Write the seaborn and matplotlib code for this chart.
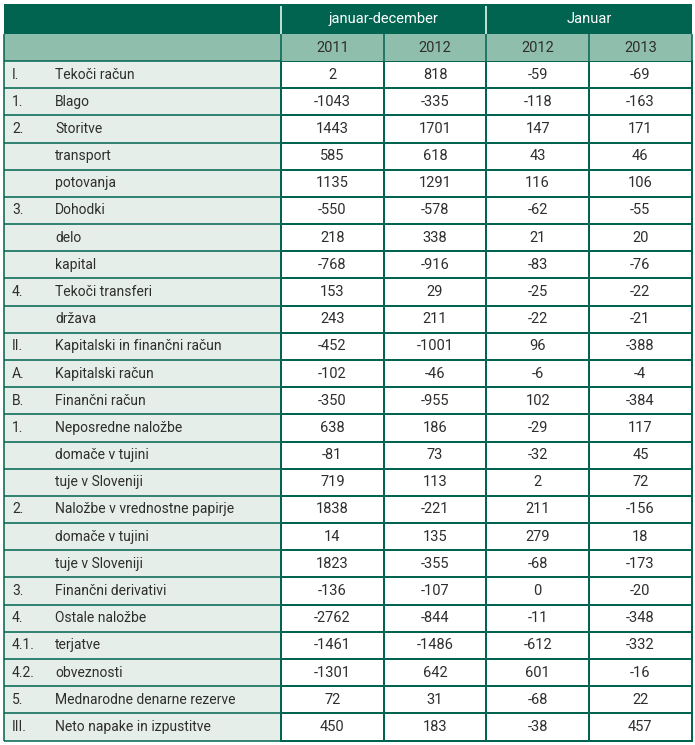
import pandas as pd
import matplotlib
matplotlib.use("Agg")
import matplotlib.pyplot as plt
from matplotlib.colors import ListedColormap
from matplotlib.patches import Rectangle
import seaborn as sns

# -----------------------------------------------------------------------------
# DATA
# -----------------------------------------------------------------------------

codes = ["I.", "1.", "2.", "", "", "3.", "", "", "4.", "", "II.", "A.", "B.", "1.",
         "", "", "2.", "", "", "3.", "4.", "4.1.", "4.2.", "5.", "III."]
items = ["Tekoči račun", "Blago", "Storitve", "transport", "potovanja", "Dohodki",
         "delo", "kapital", "Tekoči transferi", "država",
         "Kapitalski in finančni račun", "Kapitalski račun", "Finančni račun",
         "Neposredne naložbe", "domače v tujini", "tuje v Sloveniji",
         "Naložbe v vrednostne papirje", "domače v tujini", "tuje v Sloveniji",
         "Finančni derivativi", "Ostale naložbe", "terjatve", "obveznosti",
         "Mednarodne denarne rezerve", "Neto napake in izpustitve"]
jd_2011 = [2, -1043, 1443, 585, 1135, -550, 218, -768, 153, 243, -452, -102, -350,
           638, -81, 719, 1838, 14, 1823, -136, -2762, -1461, -1301, 72, 450]
jd_2012 = [818, -335, 1701, 618, 1291, -578, 338, -916, 29, 211, -1001, -46, -955,
           186, 73, 113, -221, 135, -355, -107, -844, -1486, 642, 31, 183]
jan_2012 = [-59, -118, 147, 43, 116, -62, 21, -83, -25, -22, 96, -6, 102,
            -29, -32, 2, 211, 279, -68, 0, -11, -612, 601, -68, -38]
jan_2013 = [-69, -163, 171, 46, 106, -55, 20, -76, -22, -21, -388, -4, -384,
            117, 45, 72, -156, 18, -173, -20, -348, -332, -16, 22, 457]
periods = ["januar-december", "Januar"]
years = ["2011", "2012", "2012", "2013"]

df = pd.DataFrame({"jd2011": jd_2011, "jd2012": jd_2012,
                   "jan2012": jan_2012, "jan2013": jan_2013}, index=items)

# -----------------------------------------------------------------------------
# STYLE
# -----------------------------------------------------------------------------

sns.set_theme(style="white")
plt.rcParams["font.family"] = ["Roboto", "DejaVu Sans"]

DARK = "#006450"
LIGHT = "#8fbfac"
LABEL_BG = "#e6eee9"
TEXT = "#2e2e2e"
FS = 10
FS_NUM = 10.5

W, H = 695, 745
x0, x1 = 4, 691.7
y0, y_h2, y_data, y1 = 4, 34, 61, 740.5
cw = (x1 - 281) / 4
rh = (y1 - y_data) / 25
lab_w = (281 - x0) / cw
h1 = (y_h2 - y0) / rh
h2 = (y_data - y_h2) / rh

fig = plt.figure(figsize=(W / 100, H / 100), dpi=100)
ax = fig.add_axes([x0 / W, 1 - y1 / H, (x1 - x0) / W, (y1 - y0) / H])

sns.heatmap(df, ax=ax, cmap=ListedColormap(["white"]), cbar=False,
            annot=True, fmt="d", annot_kws={"size": FS_NUM, "color": TEXT},
            linewidths=1.1, linecolor=DARK)
ax.collections[0].set_clip_on(False)

# label column
ax.add_patch(Rectangle((-lab_w, 0), lab_w, 25, facecolor=LABEL_BG,
                       edgecolor="none", zorder=0.5))
ax.hlines(range(26), -lab_w, 0, color=DARK, linewidth=1.1, clip_on=False)
ax.vlines(-lab_w, -h2, 25, color=DARK, linewidth=1.1, clip_on=False)
for i, (c, t) in enumerate(zip(codes, items)):
    y = i + 0.5
    ax.text(-lab_w + 8 / cw, y, c, ha="left", va="center", fontsize=FS, color=TEXT)
    ax.text(-lab_w + 51 / cw, y, t, ha="left", va="center", fontsize=FS, color=TEXT)

# header rows
ax.add_patch(Rectangle((-lab_w, -h2 - h1), lab_w + 4, h1, facecolor=DARK,
                       edgecolor="none", clip_on=False))
ax.add_patch(Rectangle((-lab_w, -h2), lab_w + 4, h2, facecolor=LIGHT,
                       edgecolor="none", clip_on=False))
ax.vlines([0, 1, 2, 3, 4], -h2, 0, color=DARK, linewidth=1.1, clip_on=False)
ax.vlines([0, 2], -h2 - h1 + 0.08, -h2, color="white", linewidth=1.1, clip_on=False)
for j, p in enumerate(periods):
    ax.text(2 * j + 1, -h2 - h1 / 2, p, ha="center", va="center",
            fontsize=FS_NUM, color="white")
for j, yr in enumerate(years):
    ax.text(j + 0.5, -h2 / 2, yr, ha="center", va="center", fontsize=FS_NUM, color=TEXT)

ax.set_xlim(-lab_w, 4)
ax.set_ylim(25, -h2 - h1)
ax.axis("off")

plt.savefig("out.png", dpi=100)
plt.close()
